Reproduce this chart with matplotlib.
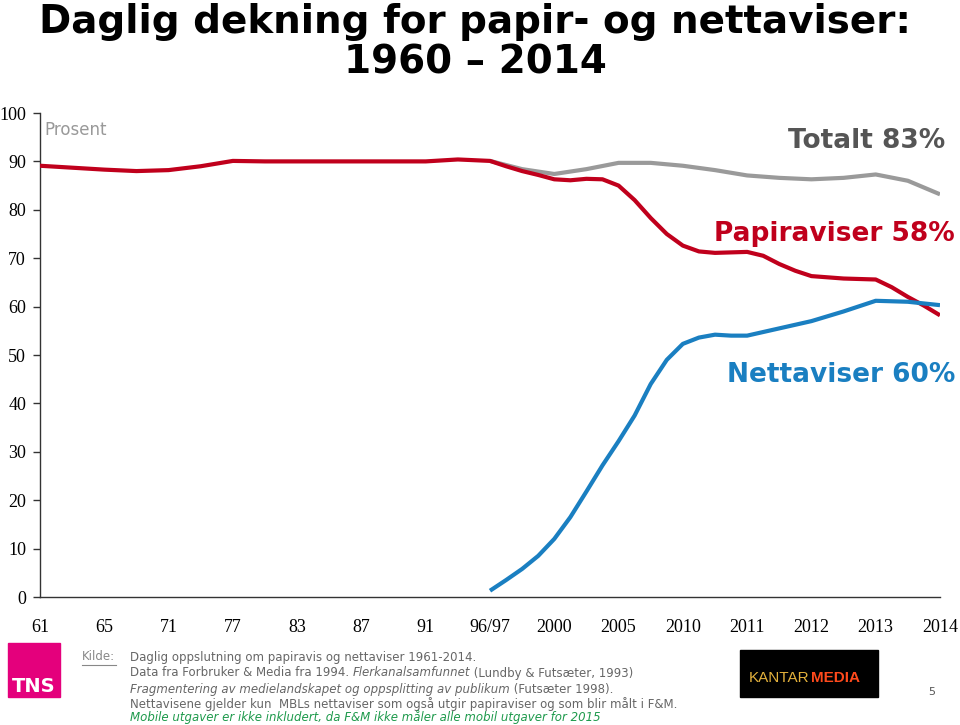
import matplotlib
matplotlib.use("Agg")
from matplotlib import pyplot as plt
from matplotlib.patches import Rectangle

# category labels along the x axis (evenly spaced, not real years)
x_labels = ["61", "65", "71", "77", "83", "87", "91", "96/97",
            "2000", "2005", "2010", "2011", "2012", "2013", "2014"]

# values, positions in category units
x_papir = [0, 0.5, 1, 1.5, 2, 2.5, 3, 3.5, 4, 4.5, 5, 5.5, 6, 6.5, 7,
           7.25, 7.5, 7.75, 8, 8.25, 8.5, 8.75, 9, 9.25, 9.5, 9.75, 10,
           10.25, 10.5, 10.75, 11, 11.25, 11.5, 11.75, 12, 12.5, 13,
           13.25, 13.5, 13.75, 14]
papir = [89.1, 88.7, 88.3, 88.0, 88.2, 89.0, 90.1, 90.0, 90.0, 90.0, 90.0,
         90.0, 90.0, 90.4, 90.1,
         89.0, 88.0, 87.2, 86.3, 86.1, 86.4, 86.3, 85.0, 82.0, 78.3, 75.0,
         72.6, 71.4, 71.1, 71.2, 71.3, 70.5, 68.8, 67.4, 66.3, 65.8, 65.6,
         64.0, 62.0, 60.2, 58.2]

x_totalt = [7, 7.5, 8, 8.5, 9, 9.5, 10, 10.5, 11, 11.5, 12, 12.5, 13,
            13.5, 14]
totalt = [90.1, 88.4, 87.4, 88.4, 89.7, 89.7, 89.1, 88.2, 87.1, 86.6,
          86.3, 86.6, 87.3, 86.0, 83.2]

x_netta = [7, 7.25, 7.5, 7.75, 8, 8.25, 8.5, 8.75, 9, 9.25, 9.5, 9.75,
           10, 10.25, 10.5, 10.75, 11, 11.5, 12, 12.5, 13, 13.5, 14]
netta = [1.3, 3.5, 5.8, 8.5, 12.0, 16.5, 21.8, 27.2, 32.2, 37.5, 44.0,
         49.0, 52.3, 53.6, 54.2, 54.0, 54.0, 55.5, 57.0, 59.0, 61.2, 61.0,
         60.3]

RED = "#c0001c"
GREY = "#9a9a9a"
BLUE = "#1a7fc1"

W, H = 960, 725
fig = plt.figure(figsize=(W / 100, H / 100), dpi=100)
fig.patch.set_facecolor("white")


def fx(px):
    return px / W


def fy(py):
    return 1 - py / H


ax = fig.add_axes([fx(40), fy(597), fx(940) - fx(40), fy(113) - fy(597)])
ax.plot(x_papir, papir, color=RED, lw=3.0, solid_joinstyle="round",
        solid_capstyle="butt", zorder=3)
ax.plot(x_totalt, totalt, color=GREY, lw=3.0, solid_joinstyle="round",
        solid_capstyle="butt", zorder=2)
ax.plot(x_netta, netta, color=BLUE, lw=3.0, solid_joinstyle="round",
        solid_capstyle="butt", zorder=4)

ax.set_xlim(0, 14)
ax.set_ylim(0, 100)
ax.set_yticks(range(0, 101, 10))
ax.set_xticks(range(len(x_labels)))
ax.set_xticklabels(x_labels)
for s in ["top", "right"]:
    ax.spines[s].set_visible(False)
for s in ["left", "bottom"]:
    ax.spines[s].set_color("#333333")
    ax.spines[s].set_linewidth(1.0)
ax.tick_params(axis="y", length=5, width=1, color="#333333", pad=5,
               labelsize=13, labelfontfamily="Liberation Serif")
ax.tick_params(axis="x", length=0, pad=16, labelsize=13,
               labelfontfamily="Liberation Serif")

ax.text(0.005, 0.965, "Prosent", transform=ax.transAxes, fontsize=12,
        color="#999999", ha="left", va="center")

# series labels
fig.text(fx(945), fy(141), "Totalt 83%", fontsize=19, fontweight="bold",
         color="#555555", ha="right", va="center")
fig.text(fx(955), fy(234), "Papiraviser 58%", fontsize=19, fontweight="bold",
         color=RED, ha="right", va="center")
fig.text(fx(955), fy(375), "Nettaviser 60%", fontsize=19, fontweight="bold",
         color=BLUE, ha="right", va="center")

# title
fig.text(fx(475), fy(22), "Daglig dekning for papir- og nettaviser:",
         fontsize=28, fontweight="bold", ha="center", va="center")
fig.text(fx(475), fy(63), "1960 \u2013 2014", fontsize=28, fontweight="bold",
         ha="center", va="center")

# logos
fig.patches.append(Rectangle((fx(8), fy(697)), fx(52), fy(643) - fy(697),
                             transform=fig.transFigure, color="#e4007c"))
fig.text(fx(34), fy(686), "TNS", fontsize=14, fontweight="bold",
         color="white", ha="center", va="center")
fig.patches.append(Rectangle((fx(740), fy(697)), fx(138), fy(650) - fy(697),
                             transform=fig.transFigure, color="black"))
fig.text(fx(809), fy(678), "KANTAR", fontsize=11, family="Liberation Sans",
         color="#e3b13c", ha="right", va="center")
fig.text(fx(811), fy(678), "MEDIA", fontsize=11, fontweight="bold",
         family="Liberation Sans", color="#ff4a1c", ha="left", va="center")
fig.text(fx(932), fy(692), "5", fontsize=8, color="#555555",
         ha="center", va="center")

# source notes, drawn run by run so styles can change inside a line
fig.canvas.draw()
renderer = fig.canvas.get_renderer()
NOTE = "#666666"


def runs(x0, y0, parts, size=8.5):
    x = fx(x0)
    for txt, style, color in parts:
        t = fig.text(x, fy(y0), txt, fontsize=size, style=style, color=color,
                     ha="left", va="center")
        bb = t.get_window_extent(renderer=renderer)
        x += bb.width / W


fig.text(fx(82), fy(657), "Kilde:", fontsize=8.5, color="#888888",
         ha="left", va="center")
fig.lines.append(plt.Line2D([fx(82), fx(116)], [fy(665), fy(665)],
                            transform=fig.transFigure, color="#888888", lw=0.8))
runs(130, 657, [("Daglig oppslutning om papiravis og nettaviser 1961-2014.",
                 "normal", NOTE)])
runs(130, 673, [("Data fra Forbruker & Media fra 1994. ", "normal", NOTE),
                ("Flerkanalsamfunnet", "italic", NOTE),
                (" (Lundby & Futs\u00e6ter, 1993)", "normal", NOTE)])
runs(130, 689, [("Fragmentering av medielandskapet og oppsplitting av publikum",
                 "italic", NOTE),
                (" (Futs\u00e6ter 1998).", "normal", NOTE)])
runs(130, 704, [("Nettavisene gjelder kun  MBLs nettaviser som ogs\u00e5 utgir "
                 "papiraviser og som blir m\u00e5lt i F&M.", "normal", NOTE)])
runs(130, 717, [("Mobile utgaver er ikke inkludert, da F&M ikke m\u00e5ler alle "
                 "mobil utgaver for 2015", "italic", "#1e9a4c")])

fig.savefig("out.png", dpi=100)
